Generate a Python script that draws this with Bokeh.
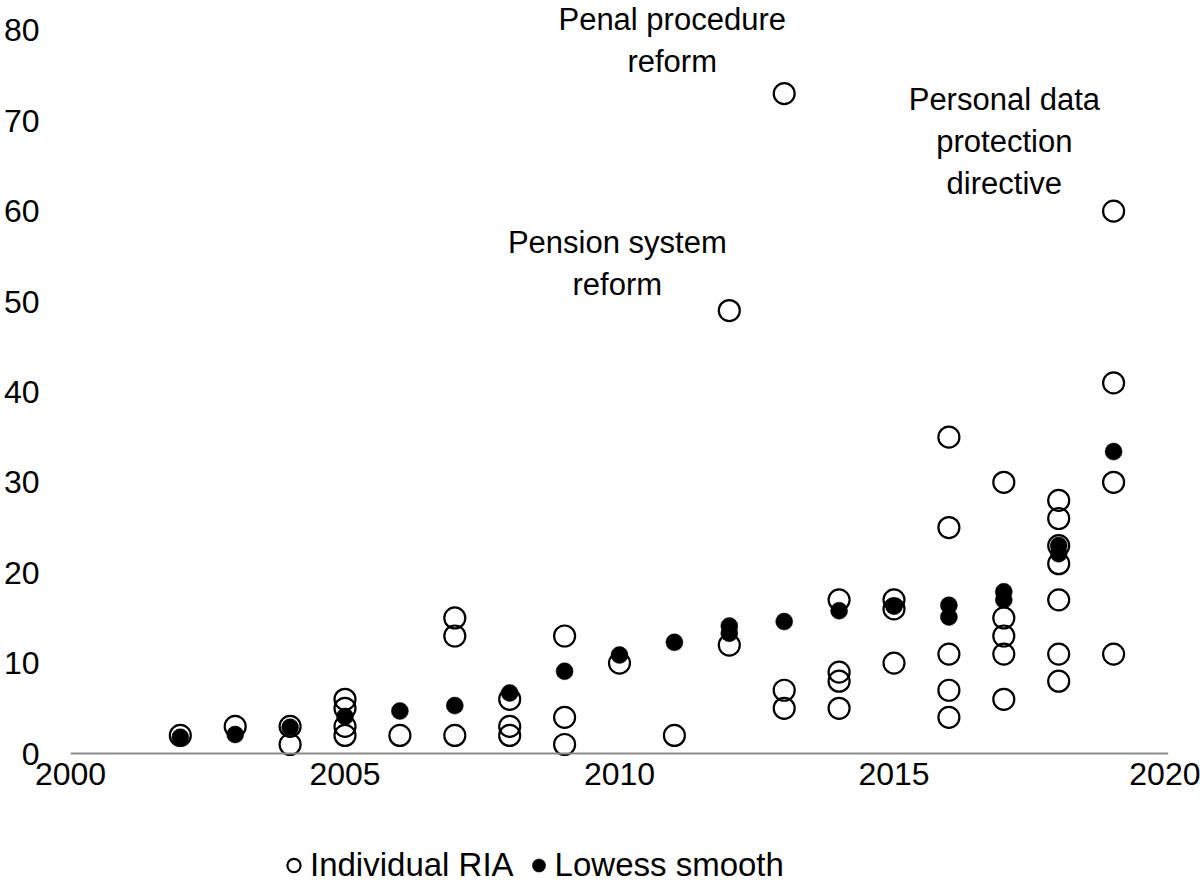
from bokeh.plotting import figure
from bokeh.layouts import column
from bokeh.models import Range1d, FixedTicker, Span, Legend, LegendItem, ColumnDataSource
from bokeh.core.properties import value
from bokeh.embed import file_html
from bokeh.resources import INLINE

# ---- data ----
ria_year = [2002, 2003, 2004, 2004, 2005, 2005, 2005, 2005, 2006,
            2007, 2007, 2007, 2008, 2008, 2008, 2009, 2009, 2009,
            2010, 2011, 2012, 2012, 2013, 2013, 2013,
            2014, 2014, 2014, 2014, 2015, 2015, 2015,
            2016, 2016, 2016, 2016, 2016, 2017, 2017, 2017, 2017, 2017,
            2018, 2018, 2018, 2018, 2018, 2018, 2018,
            2019, 2019, 2019, 2019]
ria_value = [2, 3, 3, 1, 6, 5, 3, 2, 2,
             15, 13, 2, 6, 3, 2, 13, 4, 1,
             10, 2, 49, 12, 73, 7, 5,
             17, 9, 8, 5, 17, 16, 10,
             35, 25, 11, 7, 4, 30, 15, 13, 11, 6,
             28, 26, 23, 21, 17, 11, 8,
             60, 41, 30, 11]

lowess_year = [2002, 2003, 2004, 2005, 2006, 2007, 2008, 2009, 2010, 2011,
               2012, 2012, 2013, 2014, 2015, 2016, 2016, 2017, 2017,
               2018, 2018, 2019]
lowess_value = [1.8, 2.1, 2.9, 4.1, 4.7, 5.3, 6.7, 9.1, 10.9, 12.3,
                14.1, 13.3, 14.6, 15.8, 16.3, 16.4, 15.1, 17.9, 17.0,
                23.0, 22.1, 33.4]

x_ticks = [2000, 2005, 2010, 2015, 2020]
y_ticks = [0, 10, 20, 30, 40, 50, 60, 70, 80]

series_labels = ["Individual RIA", "Lowess smooth"]

note_text = ["Penal procedure\nreform", "Pension system\nreform",
             "Personal data\nprotection\ndirective"]
note_x = [2010.96, 2009.96, 2017.01]
note_y = [78.9, 54.2, 67.7]

FONT = "Liberation Sans"

# ---- main chart ----
p = figure(width=1200, height=810, output_backend="svg", toolbar_location=None,
           x_range=Range1d(2000, 2020), y_range=Range1d(-0.44, 83.3),
           min_border_left=68, min_border_right=32, min_border_top=0,
           min_border_bottom=53)
p.background_fill_color = "white"
p.border_fill_color = "white"
p.outline_line_color = None
p.xgrid.visible = False
p.ygrid.visible = False

p.xaxis.ticker = FixedTicker(ticks=x_ticks)
p.yaxis.ticker = FixedTicker(ticks=y_ticks)
for ax in (p.xaxis[0], p.yaxis[0]):
    ax.axis_line_color = None
    ax.major_tick_line_color = None
    ax.minor_tick_line_color = None
    ax.major_tick_out = 0
    ax.major_tick_in = 0
    ax.minor_tick_out = 0
    ax.major_label_text_font = FONT
    ax.major_label_text_font_size = "32px"
    ax.major_label_text_color = "black"
p.xaxis.major_label_standoff = 5
p.yaxis.major_label_standoff = 31

p.add_layout(Span(location=0, dimension="width", line_color="#8c8c8c", line_width=2.2))

ria_src = ColumnDataSource(dict(x=ria_year, y=ria_value))
low_src = ColumnDataSource(dict(x=lowess_year, y=lowess_value))

OPEN_STYLE = dict(marker="circle", fill_color=None, line_color="black", line_width=2.2)
FILL_STYLE = dict(marker="circle", fill_color="black", line_color="black", line_width=0.5)

p.scatter("x", "y", source=ria_src, size=21, **OPEN_STYLE)
p.scatter("x", "y", source=low_src, size=17, **FILL_STYLE)

note_src = ColumnDataSource(dict(x=note_x, y=note_y, t=note_text))
p.text("x", "y", text="t", source=note_src, text_font=value(FONT),
       text_font_size="31px", text_align="center", text_baseline="middle",
       text_line_height=1.2, text_color="black")

# ---- legend strip below the chart (series drawn out of view, legend only) ----
lg = figure(width=1200, height=74, output_backend="svg", toolbar_location=None,
            x_range=Range1d(0, 1), y_range=Range1d(0, 1),
            x_axis_location=None, y_axis_location=None, min_border=0)
lg.outline_line_color = None
lg.xgrid.visible = False
lg.ygrid.visible = False
lg.background_fill_color = "white"
lg.border_fill_color = "white"

l_open = lg.scatter("x", "y", source=ria_src, size=21, **OPEN_STYLE)
l_fill = lg.scatter("x", "y", source=low_src, size=17, **FILL_STYLE)

legend = Legend(items=[LegendItem(label=series_labels[0], renderers=[l_open]),
                       LegendItem(label=series_labels[1], renderers=[l_fill])],
                orientation="horizontal", location=(207, 0),
                glyph_width=33, glyph_height=34, label_standoff=0, spacing=8,
                label_text_font=FONT, label_text_font_size="33px",
                label_text_color="black", border_line_color=None,
                background_fill_color=None, margin=0, padding=0)
lg.add_layout(legend, "center")

open("out.html", "w").write(file_html(column(p, lg, spacing=0), INLINE))
